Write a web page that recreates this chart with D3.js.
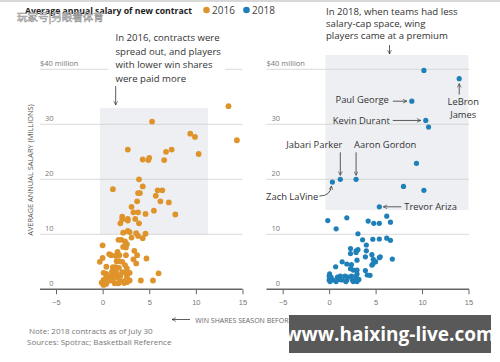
<!DOCTYPE html>
<html>
<head>
<meta charset="utf-8">
<script src="https://cdn.jsdelivr.net/npm/d3@7"></script>
<style>
  body { margin: 0; background: #fff; }
  svg { font-family: "Open Sans", "Noto Sans", sans-serif; display: block; }
</style>
</head>
<body>
<svg width="500" height="362"></svg>
<script>
// win shares (season before signing) and average annual salary ($M)
var winShares2016 = [13.5, 14.4, 5.3, 9.4, 9.9, 10.3, 2.7, 6.8, 7.4, 4.3, 4.9, 5.0, 6.6, 1.1, 3.9, 4.3, 4.0, 3.8, 5.9, 6.4,
  5.7, 6.2, 7.1, 3.7, 3.1, 3.3, 3.8, 4.6, 5.5, 7.8, 2.1, 2.7, 3.5, 2.1, 1.9, 2.7, 3.9, 2.2, 2.7, 2.9,
  3.6, 3.8, 4.6, 4.3, 3.1, 1.7, 2.0, 2.4, 0.0, 2.2, 2.5, 2.6, 3.4, 1.6, 0.7, 0.9, 1.4, 1.8, 2.5, 3.7,
  0.0, 4.7, 1.5, 1.75, 2.1, 3.3, -0.3, 3.6, 0.4, 1.1, 1.4, 1.75, 2.4, 2.6, 0.1, 0.4, 1.0, 1.3, 1.5, 2.1,
  2.5, 2.9, 6.0, 0.4, 0.8, 1.2, 1.6, 1.9, 2.6, 0.1, 0.35, 0.8, 1.1, 1.85, 2.3, 2.9, 4.1, 5.4, -0.1, 0.1,
  0.4, 1.3, 1.7, 2.3, 2.6];
var salary2016 = [33.3, 27.1, 30.5, 28.3, 27.7, 24.6, 25.4, 25.0, 25.4, 23.6, 23.5, 23.9, 23.5, 18.2, 20.0, 18.7, 17.5, 17.5, 18.0, 18.0,
  17.0, 16.0, 15.8, 16.0, 15.0, 14.0, 14.0, 13.7, 14.3, 13.6, 13.2, 12.8, 12.8, 12.7, 12.0, 12.5, 12.0, 10.3, 10.6, 10.4,
  10.2, 9.7, 10.1, 9.3, 9.4, 9.0, 9.0, 8.7, 8.0, 7.7, 7.6, 8.2, 7.0, 6.8, 6.4, 6.2, 6.1, 6.2, 6.2, 6.2,
  5.7, 5.6, 5.1, 5.1, 5.0, 5.45, 5.0, 4.7, 4.1, 4.05, 4.05, 3.9, 4.4, 3.8, 3.0, 2.8, 3.2, 3.4, 2.9, 3.1,
  3.0, 3.0, 2.9, 2.3, 2.3, 2.4, 2.2, 2.4, 2.3, 1.7, 1.5, 1.6, 1.6, 1.5, 1.5, 1.6, 1.6, 1.6, 1.2, 0.8,
  1.0, 1.1, 1.1, 1.15, 1.3];

var winShares2018 = [10.2, 14.0, 8.9, 10.4, 10.7, 9.4, 1.2, 2.9, 0.35, 8.0, 10.2, 5.4, -0.15, 1.9, 0.75, 4.2, 4.8, 5.4, 6.2, 6.6,
  3.1, 6.2, 6.6, 3.6, 4.7, 5.4, 4.0, 2.3, 2.9, 3.1, 4.0, 2.3, 2.9, 4.6, 5.5, 5.4, 6.8, 3.9, 4.75, 4.85,
  3.0, 1.4, 1.9, 2.4, 5.0, 4.7, 4.6, 0.7, 2.3, 3.0, 2.6, 3.9, 0.05, 0.0, 0.2, 0.9, 1.2, 1.7, 2.0, 2.4,
  2.9, 3.0, 4.1, 4.4, 0.0, 0.4, 1.05, 1.35, 1.9, 2.5, 2.9, 3.2, 0.1, 0.75, 1.8, 2.6, 3.0];
var salary2018 = [39.8, 38.3, 34.2, 30.7, 29.5, 22.9, 20.0, 20.0, 19.5, 18.7, 18.0, 15.0, 12.5, 13.0, 11.0, 12.4, 12.0, 12.0, 13.3, 12.2,
  10.1, 9.3, 8.9, 9.0, 9.1, 9.15, 8.05, 7.4, 7.0, 7.2, 7.0, 6.5, 6.7, 6.3, 5.9, 5.75, 5.5, 5.9, 5.45, 5.15,
  5.3, 5.0, 4.6, 4.5, 5.0, 4.6, 4.4, 4.1, 3.75, 3.5, 3.5, 3.4, 2.8, 2.4, 2.2, 2.2, 2.4, 2.4, 2.2, 2.4,
  2.4, 2.8, 2.6, 2.55, 1.7, 1.7, 1.8, 1.7, 1.7, 1.7, 1.8, 1.8, 1.4, 1.4, 1.4, 1.4, 1.4];

var xTicks = [-5, 0, 5, 10, 15];
var yTicks = [0, 10, 20, 30, 40];

// named players in 2018 panel (index into 2018 arrays)
var players = [
  { name: "Paul George", i: 2 },
  { name: "Kevin Durant", i: 3 },
  { name: "LeBron James", i: 1 },
  { name: "Jabari Parker", i: 6 },
  { name: "Aaron Gordon", i: 7 },
  { name: "Zach LaVine", i: 8 },
  { name: "Trevor Ariza", i: 11 }
];

var c2016 = "#df932b", c2018 = "#1f7fb8";
var svg = d3.select("svg");

var defs = svg.append("defs");
defs.append("marker").attr("id", "ah")
  .attr("viewBox", "0 0 10 10").attr("refX", 9).attr("refY", 5)
  .attr("markerWidth", 6).attr("markerHeight", 6).attr("orient", "auto-start-reverse")
  .append("path").attr("d", "M1,1 L9,5 L1,9").attr("fill", "none").attr("stroke", "#333").attr("stroke-width", 1.3);

var y = d3.scaleLinear().domain([0, 40]).range([289.3, 69.3]);

// top rule and header
svg.append("rect").attr("x", 0).attr("y", 0).attr("width", 500).attr("height", 2).attr("fill", "#d8d8d8");
svg.append("text").attr("x", 25).attr("y", 14).attr("font-size", 9.2).attr("font-weight", "bold")
  .attr("textLength", 167).attr("lengthAdjust", "spacingAndGlyphs")
  .attr("fill", "#222").text("Average annual salary of new contract");
svg.append("circle").attr("cx", 206.5).attr("cy", 10).attr("r", 3.3).attr("fill", c2016);
svg.append("text").attr("x", 212).attr("y", 14).attr("font-size", 10).attr("fill", "#444").text("2016");
svg.append("circle").attr("cx", 246.5).attr("cy", 10).attr("r", 3.3).attr("fill", c2018);
svg.append("text").attr("x", 252).attr("y", 14).attr("font-size", 10).attr("fill", "#444").text("2018");
// watermark overlay text
svg.append("text").attr("x", 17).attr("y", 21).attr("font-size", 10.5)
  .attr("font-family", "Noto Sans CJK SC").attr("fill", "#fff").attr("stroke", "#999").attr("stroke-width", 0.6)
  .text("玩家号|另眼看体育");

// y axis title
svg.append("text").attr("transform", "translate(33,170) rotate(-90)")
  .attr("text-anchor", "middle").attr("font-size", 7.4).attr("fill", "#555")
  .text("AVERAGE ANNUAL SALARY (MILLIONS)");

function panel(xs, ys, color, gx0, gx1, xRange, shade, r) {
  var x = d3.scaleLinear().domain([-5, 15]).range(xRange);
  var g = svg.append("g");

  g.append("rect")
    .attr("x", x(shade[0])).attr("width", x(shade[1]) - x(shade[0]))
    .attr("y", y(shade[3])).attr("height", y(shade[2]) - y(shade[3]))
    .attr("fill", "#eeeff2");

  var grid = g.append("g");
  grid.selectAll("line").data(yTicks.filter(function(d) { return d > 0; })).enter().append("line")
    .attr("x1", gx0).attr("x2", gx1)
    .attr("y1", function(d) { return y(d); }).attr("y2", function(d) { return y(d); })
    .attr("stroke", "#cfcfcf").attr("stroke-width", 0.8);

  grid.selectAll("text").data(yTicks).enter().append("text")
    .attr("x", function(d) { return d == 40 ? gx0 : gx0 + 13.5; })
    .attr("y", function(d) { return y(d) - 3; })
    .attr("text-anchor", function(d) { return d == 40 ? "start" : "end"; })
    .attr("font-size", 7.5).attr("fill", "#777")
    .text(function(d) { return d == 40 ? "$40 million" : d; });

  var ax = g.append("g").attr("transform", "translate(0," + y(0) + ")")
    .call(d3.axisBottom(x).tickValues(xTicks).tickSize(5).tickPadding(5)
      .tickFormat(function(d) { return d < 0 ? "\u2212" + Math.abs(d) : d; }));
  ax.select(".domain").remove();
  ax.selectAll(".tick line").attr("stroke", "#666");
  ax.selectAll(".tick text").attr("font-size", 7.5).attr("fill", "#777").attr("font-family", null);
  g.append("line").attr("x1", gx0).attr("x2", gx1).attr("y1", y(0)).attr("y2", y(0))
    .attr("stroke", "#666").attr("stroke-width", 1.4);

  g.append("g").selectAll("circle").data(xs).enter().append("circle")
    .attr("cx", function(d) { return x(d); })
    .attr("cy", function(d, i) { return y(ys[i]); })
    .attr("r", r).attr("fill", color);
  return x;
}

var xL = panel(winShares2016, salary2016, c2016, 40, 242.5, [56, 242.5], [-0.3, 11.3, 10, 33], 2.9);
var xR = panel(winShares2018, salary2018, c2018, 266.5, 469, [282.7, 468.5], [-0.4, 15, 14.4, 42.6], 2.6);

// left annotation
svg.append("rect").attr("x", 108).attr("y", 28).attr("width", 117).attr("height", 55).attr("fill", "#fff");
var noteL = ["In 2016, contracts were", "spread out, and players", "with lower win shares", "were paid more"];
svg.append("g").selectAll("text").data(noteL).enter().append("text")
  .attr("x", 115.5).attr("y", function(d, i) { return 41 + i * 13.6; })
  .attr("font-size", 9.6).attr("fill", "#333").text(function(d) { return d; });
svg.append("line").attr("x1", xL(1.4)).attr("x2", xL(1.4)).attr("y1", 86).attr("y2", 105)
  .attr("stroke", "#333").attr("stroke-width", 0.8).attr("marker-end", "url(#ah)");

// right annotation
var noteR = ["In 2018, when teams had less", "salary-cap space, wing", "players came at a premium"];
svg.append("g").selectAll("text").data(noteR).enter().append("text")
  .attr("x", 326).attr("y", function(d, i) { return 14.5 + i * 12.4; })
  .attr("font-size", 9.6).attr("fill", "#333").text(function(d) { return d; });
svg.append("line").attr("x1", 389.5).attr("x2", 389.5).attr("y1", 45).attr("y2", 54)
  .attr("stroke", "#333").attr("stroke-width", 0.8).attr("marker-end", "url(#ah)");

// player labels
function px(p) { return xR(winShares2018[p.i]); }
function py(p) { return y(salary2018[p.i]); }
var lab = svg.append("g").attr("font-size", 9.4).attr("fill", "#333");
function arrow(x1, y1, x2, y2) {
  svg.append("line").attr("x1", x1).attr("y1", y1).attr("x2", x2).attr("y2", y2)
    .attr("stroke", "#333").attr("stroke-width", 0.8).attr("marker-end", "url(#ah)");
}
players.forEach(function(p) {
  var cx = px(p), cy = py(p);
  if (p.name == "Paul George") {
    lab.append("text").attr("x", cx - 23).attr("y", cy + 2).attr("text-anchor", "end").text(p.name);
    arrow(cx - 19, cy, cx - 5, cy);
  } else if (p.name == "Kevin Durant") {
    lab.append("text").attr("x", cx - 36).attr("y", cy + 3.5).attr("text-anchor", "end").text(p.name);
    arrow(cx - 33, cy, cx - 5, cy);
  } else if (p.name == "LeBron James") {
    lab.append("text").attr("x", cx + 4).attr("y", cy + 26).attr("text-anchor", "middle").text("LeBron");
    lab.append("text").attr("x", cx + 4).attr("y", cy + 39.5).attr("text-anchor", "middle").text("James");
    arrow(cx, cy + 16, cx, cy + 5);
  } else if (p.name == "Jabari Parker" || p.name == "Aaron Gordon") {
    var left = p.name == "Jabari Parker";
    lab.append("text").attr("x", left ? cx + 2 : cx - 2).attr("y", cy - 31.5)
      .attr("text-anchor", left ? "end" : "start").text(p.name);
    arrow(cx, cy - 27, cx, cy - 4);
  } else if (p.name == "Zach LaVine") {
    lab.append("text").attr("x", cx - 14).attr("y", cy + 18).attr("text-anchor", "end").text(p.name);
    svg.append("path").attr("d", "M" + (cx - 13) + "," + (cy + 14) + " Q" + (cx - 2) + "," + (cy + 14) + " " + (cx - 1) + "," + (cy + 4))
      .attr("fill", "none").attr("stroke", "#333").attr("stroke-width", 0.8).attr("marker-end", "url(#ah)");
  } else if (p.name == "Trevor Ariza") {
    lab.append("text").attr("x", cx + 25).attr("y", cy + 3).text(p.name);
    arrow(cx + 22, cy, cx + 4, cy);
  }
});

// x axis title
svg.append("text").attr("x", 259).attr("y", 323).attr("text-anchor", "middle")
  .attr("font-size", 7).attr("fill", "#666").text("WIN SHARES SEASON BEFORE SIGNING");
arrow(190, 319.5, 172, 319.5);
arrow(327, 319.5, 344, 319.5);

// notes
svg.append("text").attr("x", 29).attr("y", 334).attr("font-size", 8).attr("fill", "#777")
  .text("Note: 2018 contracts as of July 30");
svg.append("text").attr("x", 27).attr("y", 345).attr("font-size", 8).attr("fill", "#777")
  .text("Sources: Spotrac; Basketball Reference");

// site watermark box
svg.append("rect").attr("x", 289).attr("y", 315).attr("width", 202).attr("height", 38).attr("fill", "#595959");
svg.append("text").attr("x", 390).attr("y", 341).attr("text-anchor", "middle")
  .attr("font-size", 19).attr("font-weight", "bold").attr("fill", "#fff").text("www.haixing-live.com");
</script>
</body>
</html>
